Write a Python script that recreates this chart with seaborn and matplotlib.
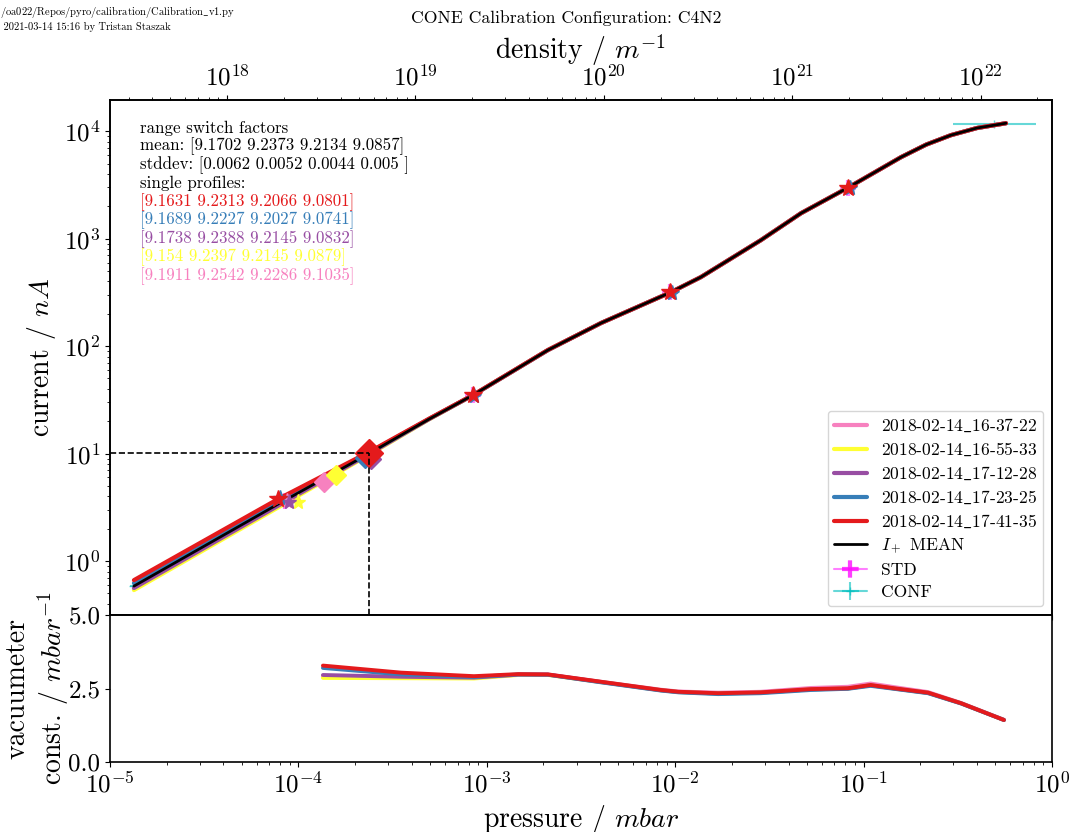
import matplotlib
matplotlib.use("Agg")
import matplotlib.pyplot as plt
import seaborn as sns

# === Données ===
runs = ["2018-02-14$\\_$16-37-22", "2018-02-14$\\_$16-55-33", "2018-02-14$\\_$17-12-28",
        "2018-02-14$\\_$17-23-25", "2018-02-14$\\_$17-41-35"]
pal = sns.color_palette("Set1")
run_colors = [pal[7], pal[5], pal[3], pal[1], pal[0]]  # rose, jaune, violet, bleu, rouge

# courbe courant / pression
pressure = [1.34e-5, 7.80e-5, 2.37e-4, 4.93e-4, 8.45e-4, 2.11e-3, 4.04e-3, 9.51e-3,
            1.37e-2, 2.85e-2, 4.66e-2, 8.36e-2, 0.158, 0.215, 0.291, 0.40, 0.570]
current_mean = [0.585, 3.39, 10.0, 20.9, 35.0, 91.8, 164, 318, 439, 968, 1726, 3013, 5728, 7500, 9183, 10700, 11858]
current_pink = [0.550, 3.25, 9.85, 20.9, 35.0, 91.8, 164, 318, 439, 968, 1726, 3013, 5728, 7500, 9183, 10700, 11858]
current_yellow = [0.537, 3.15, 9.75, 20.8, 35.0, 91.8, 164, 318, 439, 968, 1726, 3013, 5728, 7500, 9183, 10700, 11858]
current_purple = [0.561, 3.27, 9.90, 20.9, 35.0, 91.8, 164, 318, 439, 968, 1726, 3013, 5728, 7500, 9183, 10700, 11858]
current_blue = [0.624, 3.60, 10.2, 21.0, 35.0, 91.8, 164, 318, 439, 968, 1726, 3013, 5728, 7500, 9183, 10700, 11858]
current_red = [0.665, 3.78, 10.35, 21.1, 35.1, 92.0, 164, 318, 439, 968, 1726, 3013, 5728, 7500, 9183, 10700, 11858]
current_runs = [current_pink, current_yellow, current_purple, current_blue, current_red]

# points de changement de gamme (étoiles) et début vacuumètre (losanges)
stars_p = [[8.7e-5, 8.5e-4, 9.4e-3, 8.3e-2],
           [9.9e-5, 8.5e-4, 9.4e-3, 8.3e-2],
           [8.9e-5, 8.5e-4, 9.4e-3, 8.3e-2],
           [8.0e-5, 8.6e-4, 9.6e-3, 8.45e-2],
           [7.8e-5, 8.45e-4, 9.4e-3, 8.3e-2]]
stars_I = [[3.60, 35.0, 318, 2990],
           [3.55, 35.0, 318, 2990],
           [3.55, 35.0, 318, 2990],
           [3.85, 34.0, 312, 2940],
           [3.78, 35.0, 320, 2990]]
diamond_p = [1.37e-4, 1.58e-4, 2.43e-4, 2.27e-4, 2.37e-4]
diamond_I = [5.4, 6.3, 9.0, 9.1, 10.1]
ref_p, ref_I = 2.37e-4, 10.1

std_p = [8.5e-5, 8.5e-4, 9.4e-3, 8.3e-2]
std_I = [3.65, 35.0, 318, 2990]
conf_p = [1.33e-5, 0.49]
conf_I = [0.585, 11650]
conf_xerr_lo = [6e-7, 0.19]
conf_xerr_hi = [6e-7, 0.33]

# constante du vacuumètre
vac_p = [1.35e-4, 3.51e-4, 8.55e-4, 1.47e-3, 2.11e-3, 4.04e-3, 8.41e-3, 1.04e-2, 1.69e-2,
         2.85e-2, 5.26e-2, 8.26e-2, 0.109, 0.145, 0.220, 0.329, 0.556]
vac_pink = [2.92, 2.89, 2.87, 2.97, 2.98, 2.73, 2.46, 2.40, 2.36, 2.39, 2.52, 2.56, 2.67, 2.55, 2.38, 2.01, 1.44]
vac_yellow = [2.86, 2.85, 2.84, 2.96, 2.96, 2.72, 2.44, 2.38, 2.33, 2.36, 2.47, 2.50, 2.61, 2.50, 2.35, 2.00, 1.43]
vac_purple = [2.96, 2.90, 2.87, 2.97, 2.97, 2.72, 2.44, 2.38, 2.33, 2.36, 2.47, 2.50, 2.61, 2.50, 2.35, 2.00, 1.43]
vac_blue = [3.20, 2.98, 2.89, 2.98, 2.97, 2.71, 2.43, 2.37, 2.31, 2.34, 2.45, 2.49, 2.59, 2.49, 2.34, 1.99, 1.43]
vac_red = [3.28, 3.04, 2.92, 2.99, 2.98, 2.73, 2.45, 2.39, 2.34, 2.37, 2.48, 2.51, 2.62, 2.51, 2.36, 2.00, 1.43]
vac_runs = [vac_pink, vac_yellow, vac_purple, vac_blue, vac_red]

# texte des facteurs
factor_lines = ["range switch factors",
                "mean: [9.1702 9.2373 9.2134 9.0857]",
                "stddev: [0.0062 0.0052 0.0044 0.005 ]",
                "single profiles:"]
profile_lines = ["[9.1631 9.2313 9.2066 9.0801]",
                 "[9.1689 9.2227 9.2027 9.0741]",
                 "[9.1738 9.2388 9.2145 9.0832]",
                 "[9.154 9.2397 9.2145 9.0879]",
                 "[9.1911 9.2542 9.2286 9.1035]"]
profile_colors = [pal[0], pal[1], pal[3], pal[5], pal[7]]

density_factor = 2.39e22  # m^-1 par mbar

# === Style ===
sns.set_style("ticks")
plt.rcParams.update({
    "font.family": "serif",
    "font.serif": ["cmr10"],
    "mathtext.fontset": "cm",
    "axes.formatter.use_mathtext": True,
    "axes.edgecolor": "black",
    "axes.linewidth": 1.2,
    "text.color": "black",
    "axes.labelcolor": "black",
    "xtick.color": "black",
    "ytick.color": "black",
})

fig = plt.figure(figsize=(10.72, 8.32), dpi=100)
ax = fig.add_axes([0.1026, 0.2608, 0.8787, 0.619])
ax_low = fig.add_axes([0.1026, 0.0841, 0.8787, 0.1767], sharex=ax)

ax.set_xscale("log")
ax.set_yscale("log")

# courbes individuelles
for name, col, cur in zip(runs, run_colors, current_runs):
    sns.lineplot(x=pressure, y=cur, ax=ax, color=col, lw=3, label=name,
                 estimator=None, sort=False, zorder=2)
sns.lineplot(x=pressure, y=current_mean, ax=ax, color="black", lw=2,
             label="$I_+$ MEAN", estimator=None, sort=False, zorder=3)

# marqueurs
for i, col in enumerate(run_colors):
    ax.plot(stars_p[i], stars_I[i], ls="none", marker="*", color=col,
            ms=13 if i == 4 else 11, zorder=4)
    ax.plot(diamond_p[i], diamond_I[i], ls="none", marker="D", color=col,
            ms=14 if i == 4 else 10, zorder=4)

for k, (p, c) in enumerate(zip(std_p, std_I)):
    ax.errorbar([p], [c], xerr=p * 0.02, yerr=c * 0.02, fmt="+-", color="magenta",
                alpha=0.5, lw=1.5, elinewidth=3, ms=12, mew=3,
                label="STD" if k == 0 else "_nolegend_", zorder=1)
for k, (p, c) in enumerate(zip(conf_p, conf_I)):
    ax.errorbar([p], [c], xerr=[[conf_xerr_lo[k]], [conf_xerr_hi[k]]], yerr=c * 0.01,
                fmt="+-", color="c", alpha=0.6, lw=1.5, label="CONF" if k == 0 else "_nolegend_",
                zorder=1)

ax.hlines(ref_I, 1e-5, ref_p, colors="black", linestyles="--", lw=1.2, zorder=5)
ax.vlines(ref_p, 0.315, ref_I, colors="black", linestyles="--", lw=1.2, zorder=5)

ax.set_xlim(1e-5, 1)
ax.set_ylim(0.315, 1.95e4)
ax.set_ylabel("current / $nA$", fontsize=20)
ax.tick_params(axis="x", which="both", bottom=False, labelbottom=False)
ax.tick_params(axis="y", labelsize=18)

# texte des facteurs
y0 = (615 - 128) / 515
dy = 18.5 / 515
for i, line in enumerate(factor_lines):
    ax.text(0.032, y0 - i * dy, line, transform=ax.transAxes, fontsize=12.2, va="center")
for j, (line, col) in enumerate(zip(profile_lines, profile_colors)):
    ax.text(0.032, y0 - (j + 4) * dy, line, transform=ax.transAxes, fontsize=12.2,
            va="center", color=col)

handles, labels = ax.get_legend_handles_labels()
ax.legend(handles, labels, loc="lower right", fontsize=12.6, framealpha=0.8,
          labelspacing=0.38, handlelength=1.9, borderpad=0.35)

# axe densité
ax_top = ax.twiny()
ax_top.set_xscale("log")
ax_top.set_xlim(1e-5 * density_factor, 1 * density_factor)
ax_top.set_xlabel("density / $m^{-1}$", fontsize=20)
ax_top.tick_params(axis="x", labelsize=18)

# panneau bas
for col, vac in zip(run_colors, vac_runs):
    sns.lineplot(x=vac_p, y=vac, ax=ax_low, color=col, lw=2.8, estimator=None, sort=False)
ax_low.set_ylim(0, 5)
ax_low.set_yticks([0, 2.5, 5.0])
ax_low.set_yticklabels(["0.0", "2.5", "5.0"])
ax_low.set_xlim(1e-5, 1)
ax_low.set_xlabel("pressure / $mbar$", fontsize=20)
ax_low.set_ylabel("vacuumeter\nconst. / $mbar^{-1}$", fontsize=20, labelpad=-2)
ax_low.tick_params(labelsize=18)

fig.text(566 / 1072, 1 - 18 / 832, "CONE Calibration Configuration: C4N2", fontsize=12.7,
         ha="center", va="center")
fig.text(0.0, 0.995, "/oa022/Repos/pyro/calibration/Calibration$\\_$v1.py\n 2021-03-14 15:16 by Tristan Staszak",
         fontsize=7.6, ha="left", va="top")

fig.savefig("out.png", dpi=100)
